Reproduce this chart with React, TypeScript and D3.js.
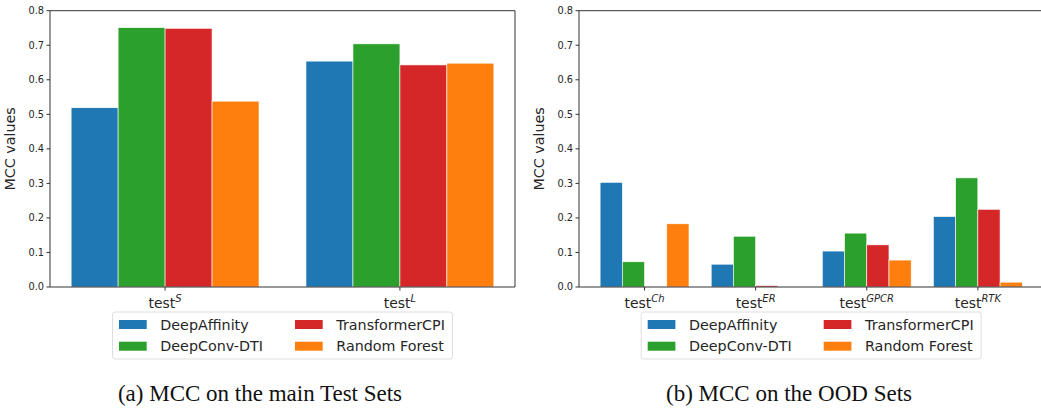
import React from "react";
import * as d3 from "d3";

const models = ["DeepAffinity", "DeepConv-DTI", "TransformerCPI", "Random Forest"];
const colors = ["#1f77b4", "#2ca02c", "#d62728", "#ff7f0e"];

const mainSets = ["S", "L"];
const mainValues = [
  [0.519, 0.654],
  [0.751, 0.704],
  [0.749, 0.643],
  [0.538, 0.648],
];

const oodSets = ["Ch", "ER", "GPCR", "RTK"];
const oodValues = [
  [0.303, 0.066, 0.104, 0.204],
  [0.073, 0.147, 0.156, 0.316],
  [0, 0.004, 0.122, 0.225],
  [0.183, 0, 0.078, 0.014],
];

const yTicks = [0, 0.1, 0.2, 0.3, 0.4, 0.5, 0.6, 0.7, 0.8];

const FONT = "DejaVu Sans, sans-serif";
const BAR_W = 0.2;

type PanelProps = {
  left: number;
  right: number;
  sets: string[];
  values: number[][];
  caption: string;
  captionX: number;
};

const Panel = ({ left, right, sets, values, caption, captionX }: PanelProps) => {
  const top = 10.7;
  const bottom = 287;
  const n = sets.length;
  const pad = (n - 1 + 4 * BAR_W) * 0.05;
  const x = d3
    .scaleLinear()
    .domain([-2 * BAR_W - pad, n - 1 + 2 * BAR_W + pad])
    .range([left, right]);
  const y = d3.scaleLinear().domain([0, 0.8]).range([bottom, top]);
  const bw = x(BAR_W) - x(0);
  const cx = (left + right) / 2;
  const legW = 340;
  const legX = cx - legW / 2;
  const legY = 312;

  return (
    <g>
      {values.map((series, j) =>
        series.map((v, i) => {
          const x0 = x(i + (j - 2) * BAR_W);
          return (
            <rect
              key={`${j}-${i}`}
              x={x0}
              y={y(v)}
              width={bw}
              height={y(0) - y(v)}
              fill={colors[j]}
              stroke="#ffffff"
              strokeWidth={0.6}
            />
          );
        })
      )}
      {/* spines */}
      <path
        d={`M${left},${top}V${bottom}H${right}M${left},${top}H${right}V${bottom}`}
        fill="none"
        stroke="#333"
        strokeWidth={1}
      />
      {yTicks.map((t) => (
        <g key={t} transform={`translate(${left},${y(t)})`}>
          <line x1={-3.5} x2={0} stroke="#333" />
          <text
            x={-6}
            dy="0.35em"
            textAnchor="end"
            fontFamily={FONT}
            fontSize={9.8}
            fill="#262626"
          >
            {d3.format(".1f")(t)}
          </text>
        </g>
      ))}
      <text
        transform={`translate(${left - 35},${(top + bottom) / 2}) rotate(-90)`}
        textAnchor="middle"
        fontFamily={FONT}
        fontSize={14.3}
        fill="#262626"
      >
        MCC values
      </text>
      {sets.map((s, i) => (
        <g key={s} transform={`translate(${x(i)},${bottom})`}>
          <line y1={0} y2={3.5} stroke="#333" />
          <text
            y={21}
            textAnchor="middle"
            fontFamily={FONT}
            fontSize={13.9}
            fill="#262626"
          >
            test
            <tspan dy={-6} fontSize={10} fontStyle="italic">
              {s}
            </tspan>
          </text>
        </g>
      ))}
      {/* legend */}
      <rect
        x={legX}
        y={legY}
        width={legW}
        height={47}
        rx={2.5}
        fill="#ffffff"
        fillOpacity={0.8}
        stroke="#d6d6d6"
        strokeWidth={0.8}
      />
      {models.map((m, j) => {
        const col = j < 2 ? 0 : 1;
        const row = j % 2;
        const px = legX + 6.5 + col * 176;
        const py = legY + 8 + row * 21.7;
        return (
          <g key={m}>
            <rect x={px} y={py} width={27.7} height={9} fill={colors[j]} />
            <text
              x={px + 41.3}
              y={py + 4.5}
              dy="0.35em"
              fontFamily={FONT}
              fontSize={14.3}
              fill="#262626"
            >
              {m}
            </text>
          </g>
        );
      })}
      <text
        x={captionX}
        y={401}
        textAnchor="middle"
        fontFamily="Liberation Serif, Times New Roman, serif"
        fontSize={23}
        fill="#111"
      >
        {caption}
      </text>
    </g>
  );
};

export default function App() {
  return (
    <svg
      width={1041}
      height={408}
      style={{ position: "absolute", left: 0, top: 0, background: "#fff" }}
    >
      <rect width={1041} height={408} fill="#fff" />
      <Panel
        left={50}
        right={515}
        sets={mainSets}
        values={mainValues}
        caption="(a) MCC on the main Test Sets"
        captionX={260}
      />
      <Panel
        left={579}
        right={1043.4}
        sets={oodSets}
        values={oodValues}
        caption="(b) MCC on the OOD Sets"
        captionX={789}
      />
    </svg>
  );
}
